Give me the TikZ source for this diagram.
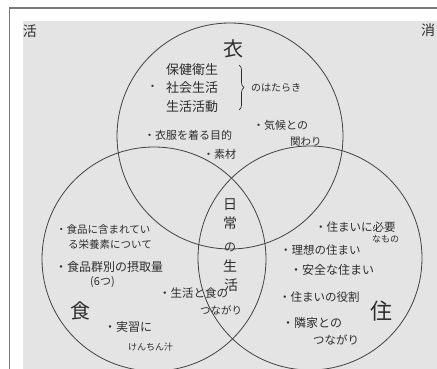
\documentclass[tikz,border=0pt]{standalone}
\usepackage{fontspec}
\newfontfamily\jp{Noto Sans CJK JP}
\usetikzlibrary{decorations.pathreplacing}
\definecolor{paper}{RGB}{228,228,228}
\definecolor{framec}{RGB}{120,120,120}
\definecolor{ink}{RGB}{45,45,45}
\tikzset{
  hw/.style={font=\jp\fontsize{#1}{#1}\selectfont, text=ink, inner sep=0pt, anchor=west},
  big/.style={font=\jp\fontsize{#1}{#1}\selectfont, text=ink, inner sep=0pt},
  ring/.style={draw=ink!90, line width=0.8pt},
}
\begin{document}
\begin{tikzpicture}[x=1pt,y=-1pt]
\useasboundingbox (0,0) rectangle (437,369);
\fill[white] (0,0) rectangle (437,369);
\fill[paper] (23,21) rectangle (437,369);
\draw[framec, line width=1.5pt] (9.5,369) -- (9.5,8) -- (437,8);
% circles
\draw[ring] (230,136) circle[radius=113];
\draw[ring] (154,259) circle[radius=112];
\draw[ring] (310,258) circle[radius=112];
% corner labels
\node[big=14] (katsu) at (30,31) {活};
\node[big=14] (sho) at (428,30) {消};
% big labels
\node[big=20] (i) at (233,49) {衣};
\node[big=20] (shoku) at (80,311) {食};
\node[big=22] (ju) at (381,311) {住};
% top circle
\node[hw=11] (b1) at (147,88) {・};
\node[hw=13] (t1) at (166,70) {保健衛生};
\node[hw=13] (t2) at (166,88) {社会生活};
\node[hw=13] (t3) at (166,107) {生活活動};
\coordinate (br1) at (239,65);
\coordinate (br2) at (239,110);
\draw[ink, line width=0.7pt, decorate, decoration={brace, amplitude=5pt}] (br1) -- (br2);
\node[hw=10] (t4) at (251,88) {のはたらき};
\node[hw=11] (t5) at (144,135) {・衣服を着る目的};
\node[hw=11] (t6) at (253,125) {・気候との};
\node[hw=10.5] (t7) at (290,142) {関わり};
\node[hw=11] (t8) at (203,154) {・素材};
% center
\node[big=14] (c1) at (230,205) {日};
\node[big=14] (c2) at (230,223) {常};
\node[big=12] (c3) at (230,247) {の};
\node[big=14] (c4) at (230,266) {生};
\node[big=14] (c5) at (231,285) {活};
\node[hw=11.5] (m1) at (159,293) {・生活と食の};
\node[hw=10.5] (m2) at (200,310) {つながり};
% left circle
\node[hw=10.5] (l1) at (56,230) {・食品に含まれてい};
\node[hw=10.5] (l2) at (68,245) {る栄養素について};
\node[hw=12] (l3) at (55,267) {・食品群別の摂取量};
\node[hw=11] (l4) at (90,282) {(6つ)};
\node[hw=12] (l5) at (104,327) {・実習に};
\node[hw=9] (l6) at (128,347) {けんちん汁};
% right circle
\node[hw=11.5] (r1) at (315,227) {・住まいに必要};
\node[hw=9] (r2) at (372,239) {なもの};
\node[hw=11.5] (r3) at (280,250) {・理想の住まい};
\node[hw=12] (r4) at (290,270) {・安全な住まい};
\node[hw=11.5] (r5) at (279,297) {・住まいの役割};
\node[hw=12] (r6) at (282,323) {・隣家との};
\node[hw=11.5] (r7) at (313,340) {つながり};
\end{tikzpicture}
\end{document}
